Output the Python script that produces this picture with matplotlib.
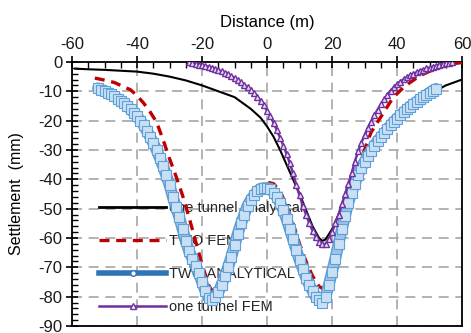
import matplotlib
matplotlib.use("Agg")
import matplotlib.pyplot as plt
import matplotlib.patheffects as pe
from matplotlib.lines import Line2D
from matplotlib.ticker import MultipleLocator

plt.rcParams['font.family'] = ['Liberation Sans', 'DejaVu Sans']
plt.rcParams['axes.unicode_minus'] = False

# one tunnel analytical (black)
one_ana_x = [-59, -55, -50, -45, -40, -35, -30, -25, -20, -15, -10, -5, -2, 0, 2, 4, 6, 8,
             10, 12, 14, 16, 17, 18, 20, 22, 24, 26, 28, 30, 33, 36, 40, 45, 50, 55, 60]
one_ana_y = [-2.3, -2.5, -2.7, -3.0, -3.3, -4.0, -5.0, -6.3, -8.0, -10.0, -12.0, -16.0, -19.0,
             -22.0, -25.5, -30.0, -35.0, -40.0, -45.0, -50.5, -56.0, -60.0, -61.0, -60.5, -57.0,
             -52.0, -47.0, -41.5, -37.0, -33.0, -28.0, -24.0, -19.5, -15.0, -11.0, -8.0, -6.0]

# TWO FEM (red dashed)
two_fem_x = [-53, -50, -47, -44, -42, -40, -38, -36, -34, -32, -30, -28, -26, -24, -22, -20,
             -18, -17, -16, -14, -12, -10, -8, -6, -4, -2, 0, 2, 4, 6, 8, 10, 12, 14, 16, 17.5,
             19, 20, 22, 24, 26, 28, 30, 32, 34, 36, 38, 40, 42, 44, 46, 48, 50, 52, 54, 56, 58, 60]
two_fem_y = [-5.5, -6.2, -7.0, -8.5, -9.5, -11.5, -14.0, -17.0, -20.5, -26.5, -33.0, -39.0,
             -45.5, -53.0, -61.0, -69.0, -76.0, -78.0, -77.5, -73.0, -67.0, -61.0, -54.0, -48.5,
             -44.5, -42.0, -41.0, -41.5, -44.0, -49.0, -55.0, -62.0, -68.0, -73.0, -76.5, -77.5,
             -74.0, -71.0, -63.0, -54.0, -44.0, -36.0, -30.0, -24.0, -20.5, -17.0, -13.5, -10.8,
             -8.7, -7.0, -5.5, -4.2, -3.2, -2.4, -1.6, -1.0, -0.5, -0.2]

# TWO ANALYTICAL (blue squares)
two_ana_x = list(range(-52, 53))
two_ana_y = [-9.0, -9.5, -10.0, -10.5, -11.0, -11.7, -12.5, -13.2, -14.0, -15.0, -16.2,
             -17.3, -18.5, -20.0, -21.5, -23.5, -25.5, -27.7, -30.0, -32.7, -35.5, -38.7,
             -42.0, -46.0, -49.5, -53.0, -57.0, -61.0, -64.5, -67.0, -69.5, -72.0, -75.0,
             -78.0, -80.5, -81.0, -80.0, -78.5, -76.0, -73.0, -70.0, -66.5, -62.5, -58.5,
             -55.0, -52.0, -49.0, -47.0, -45.5, -44.0, -43.2, -43.0,
             -43.0, -43.3, -44.5, -46.0, -48.0, -50.5, -53.5, -57.0, -60.5, -64.0, -67.5,
             -70.5, -73.5, -76.0, -78.0, -80.0, -81.3, -82.0, -80.0, -76.0, -71.5, -67.0,
             -62.0, -57.0, -52.5, -48.0, -44.5, -41.5, -38.5, -36.0, -34.0, -32.0, -30.2,
             -28.5, -27.0, -25.6, -24.3, -23.0, -21.6, -20.4, -19.3, -18.2, -17.2, -16.2,
             -15.2, -14.4, -13.6, -12.8, -12.0, -11.3, -10.5, -9.8, -9.2]

# one tunnel FEM (purple triangles)
one_fem_x = list(range(-24, 58))
one_fem_y = [0.0, -0.3, -0.6, -0.9, -1.1, -1.4, -1.6, -1.9, -2.3, -2.7, -3.2, -3.7, -4.2,
             -4.8, -5.5, -6.2, -7.0, -7.8, -8.6, -9.5, -10.6, -11.8, -13.2, -14.8, -16.6,
             -18.5, -20.8, -23.2, -25.8, -28.5, -31.3, -34.5, -38.0, -42.0, -45.5, -49.0,
             -52.0, -55.0, -57.5, -59.7, -61.2, -62.2, -62.0, -60.5, -58.0, -55.0, -52.0,
             -48.5, -45.0, -41.5, -38.0, -34.0, -30.5, -27.5, -25.0, -22.5, -20.3, -18.2,
             -16.3, -14.5, -12.8, -11.2, -9.8, -8.6, -7.6, -6.7, -5.9, -5.2, -4.6, -4.0,
             -3.5, -3.0, -2.6, -2.2, -1.9, -1.6, -1.3, -1.0, -0.8, -0.5, -0.3, -0.1]

labels = ["one tunnel analytical", "TWO FEM", "TWO ANALYTICAL", "one tunnel FEM"]

fig = plt.figure(figsize=(4.71, 3.33), dpi=100)
ax = fig.add_axes([0.153, 0.021, 0.828, 0.793])

ax.plot(one_ana_x, one_ana_y, color='black', lw=1.5, zorder=3)
ax.plot(two_fem_x, two_fem_y, color='#C00000', lw=2.4, ls=(0, (3, 2)), zorder=4)
# blue band with dense hollow squares on top
ax.plot(two_ana_x, two_ana_y, color='#9DC3E6', lw=6.5, solid_capstyle='round', zorder=5,
        path_effects=[pe.Stroke(linewidth=8.5, foreground='#5B9BD5'), pe.Normal()])
ax.plot(two_ana_x, two_ana_y, ls='none', marker='s', ms=6.5,
        mfc='#C9E0F4', mec='#5FA0D8', mew=0.8, zorder=5.5)
ax.plot(one_fem_x, one_fem_y, color='#7030A0', lw=1.8, marker='^', ms=3.8,
        mfc='#E8DDF0', mec='#7030A0', mew=1.0, zorder=6)

ax.set_xlim(-60, 60)
ax.set_ylim(-90, 0)
ax.xaxis.tick_top()
ax.xaxis.set_label_position('top')
ax.set_xlabel("Distance (m)", fontsize=12, labelpad=7)
ax.set_ylabel("Settlement  (mm)", fontsize=11.5, labelpad=10)
ax.xaxis.set_major_locator(MultipleLocator(20))
ax.xaxis.set_minor_locator(MultipleLocator(5))
ax.yaxis.set_major_locator(MultipleLocator(10))
ax.yaxis.set_minor_locator(MultipleLocator(2))
ax.tick_params(which='major', direction='inout', length=8, width=1.2, labelsize=12,
               colors='black', labelcolor='#1a1a1a')
ax.tick_params(which='minor', direction='in', length=4, width=1.0)
ax.tick_params(axis='x', which='both', top=True, bottom=False, pad=3)
ax.tick_params(axis='y', which='both', left=True, right=False, pad=3)
for s in ax.spines.values():
    s.set_linewidth(1.3)

ax.grid(True, which='major', color='#A6A6A6', ls=(0, (6, 4)), lw=1.2, zorder=0)

handles = [
    Line2D([], [], color='black', lw=2),
    Line2D([], [], color='#C00000', lw=2.4, ls=(0, (3, 2))),
    Line2D([], [], color='#2E75B6', lw=4, marker='o', ms=4, mfc='white', mec='#2E75B6'),
    Line2D([], [], color='#7030A0', lw=1.8, marker='^', ms=4, mfc='white', mec='#7030A0'),
]
leg = ax.legend(handles, labels, loc='lower left', bbox_to_anchor=(0.07, 0.045),
                frameon=False, fontsize=10.5, handlelength=4.6, handletextpad=0.15,
                labelspacing=1.3, borderpad=0, borderaxespad=0)
leg.set_zorder(2)
for t in leg.get_texts():
    t.set_color('#262626')

fig.savefig("out.png", dpi=100)
